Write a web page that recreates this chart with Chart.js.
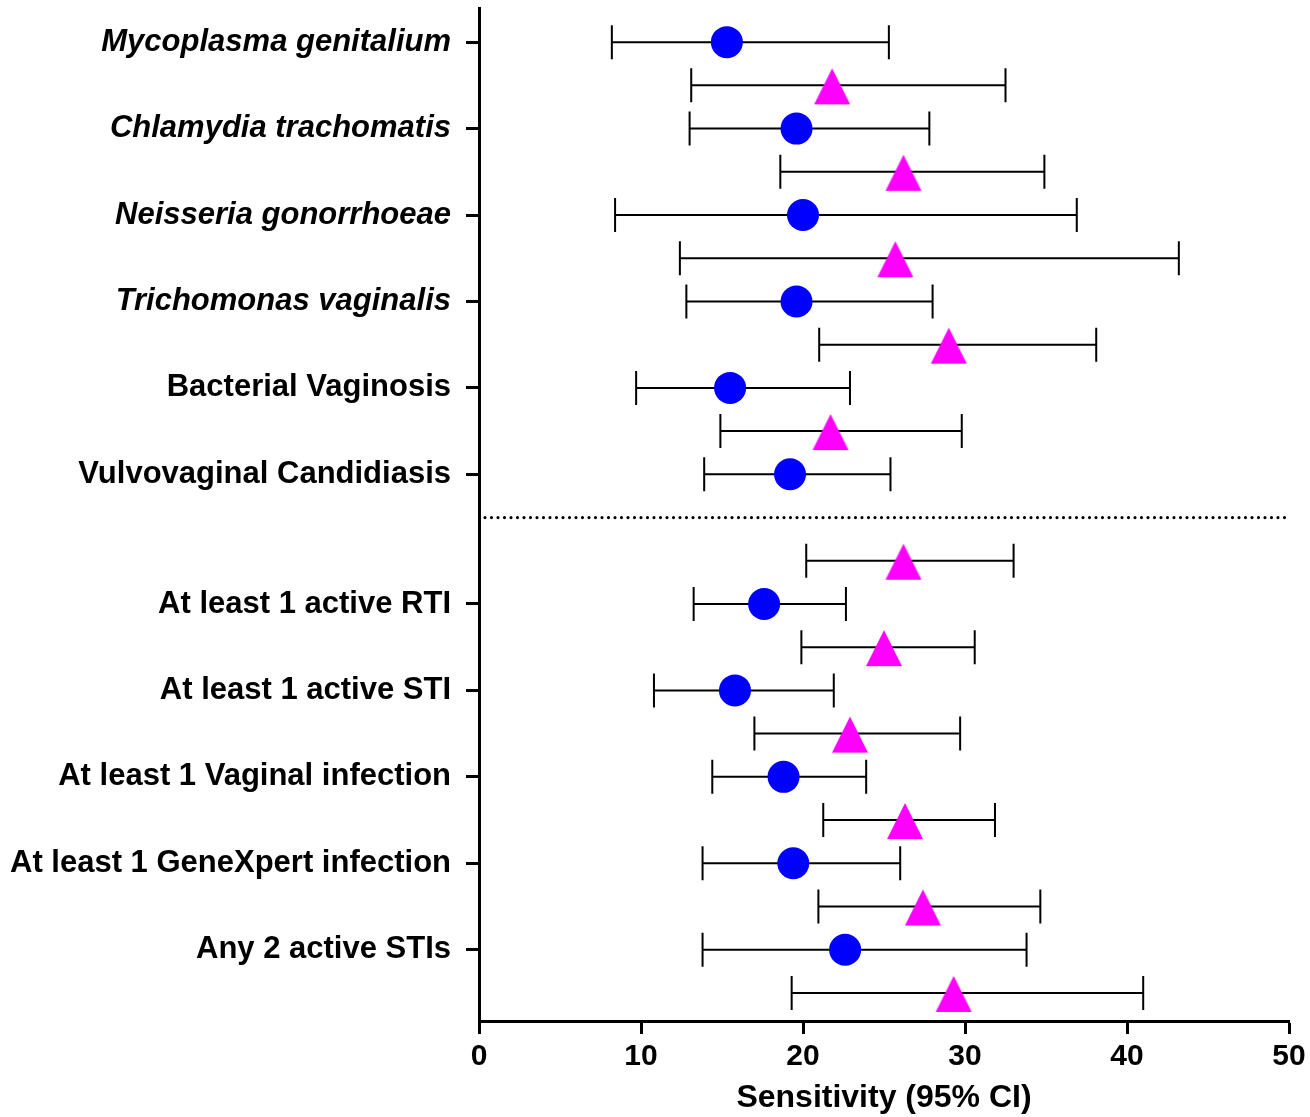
<!DOCTYPE html>
<html><head><meta charset="utf-8">
<script src="https://cdn.jsdelivr.net/npm/chart.js@4.4.1/dist/chart.umd.min.js"></script>
<style>html,body{margin:0;padding:0;background:#fff;} #wrap{width:1310px;height:1117px;}</style>
</head><body><div id="wrap"><canvas id="c" width="1310" height="1117"></canvas></div>
<script>
// ---- data ----
const categories = [
  'Mycoplasma genitalium', 'Chlamydia trachomatis', 'Neisseria gonorrhoeae', 'Trichomonas vaginalis',
  'Bacterial Vaginosis', 'Vulvovaginal Candidiasis',
  'At least 1 active RTI', 'At least 1 active STI', 'At least 1 Vaginal infection',
  'At least 1 GeneXpert infection', 'Any 2 active STIs'
];
const categoryItalic = [true, true, true, true, false, false, false, false, false, false, false];
// row slots (top to bottom) on the category axis
const blueSlots = [0, 2, 4, 6, 8, 10, 13, 15, 17, 19, 21];
const blueValues = [15.3, 19.6, 20.0, 19.6, 15.5, 19.2, 17.6, 15.8, 18.8, 19.4, 22.6];
const blueLow    = [8.2, 13.0, 8.4, 12.8, 9.7, 13.9, 13.25, 10.8, 14.4, 13.8, 13.8];
const blueHigh   = [25.3, 27.8, 36.9, 28.0, 22.9, 25.4, 22.65, 21.9, 23.9, 26.0, 33.8];

const triSlots  = [1, 3, 5, 7, 9, 12, 14, 16, 18, 20, 22];
const triValues = [21.8, 26.2, 25.7, 29.0, 21.7, 26.2, 25.0, 22.9, 26.3, 27.4, 29.3];
const triLow    = [13.1, 18.6, 12.4, 21.0, 14.9, 20.2, 19.9, 17.0, 21.25, 20.95, 19.3];
const triHigh   = [32.5, 34.9, 43.2, 38.1, 29.8, 33.0, 30.6, 29.7, 31.85, 34.65, 41.0];

const separatorSlot = 11;
const xTicks = [0, 10, 20, 30, 40, 50];

// ---- styling ----
const FONT = "'Liberation Sans', Arial, Helvetica, sans-serif";
const BLUE = '#0000FF';
const MAGENTA = '#FF00FF';

// triangle marker sprite (base below centre, like the reference)
const tri = document.createElement('canvas');
tri.width = 40; tri.height = 40;
(function(){
  const g = tri.getContext('2d');
  g.fillStyle = MAGENTA;
  g.beginPath(); g.moveTo(20, 3); g.lineTo(38, 39); g.lineTo(2, 39); g.closePath(); g.fill();
})();

const errorBars = {
  id: 'errorBars',
  beforeDatasetsDraw(chart) {
    const ctx = chart.ctx, xs = chart.scales.x, ys = chart.scales.y;
    chart.data.datasets.forEach(ds => {
      if (!ds.errLow) return;
      ctx.save();
      ctx.strokeStyle = '#000';
      ctx.lineWidth = 2;
      ds.data.forEach((p, i) => {
        const y = ys.getPixelForValue(p.y);
        const x1 = xs.getPixelForValue(ds.errLow[i]);
        const x2 = xs.getPixelForValue(ds.errHigh[i]);
        ctx.beginPath();
        ctx.moveTo(x1, y); ctx.lineTo(x2, y);
        ctx.moveTo(x1, y - 17); ctx.lineTo(x1, y + 17);
        ctx.moveTo(x2, y - 17); ctx.lineTo(x2, y + 17);
        ctx.stroke();
      });
      ctx.restore();
    });
  }
};

new Chart(document.getElementById('c'), {
  type: 'scatter',
  data: {
    datasets: [
      {
        type: 'line',
        data: [{x: 0.37, y: separatorSlot}, {x: 49.75, y: separatorSlot}],
        borderColor: '#000', borderWidth: 3.2, borderDash: [0, 6.5], borderCapStyle: 'round',
        pointRadius: 0, fill: false
      },
      {
        data: blueSlots.map((s, i) => ({x: blueValues[i], y: s})),
        errLow: blueLow, errHigh: blueHigh,
        pointStyle: 'circle', pointRadius: 16, pointBackgroundColor: BLUE, pointBorderWidth: 0, borderColor: BLUE
      },
      {
        data: triSlots.map((s, i) => ({x: triValues[i], y: s})),
        errLow: triLow, errHigh: triHigh,
        pointStyle: tri, pointRadius: 20, pointBackgroundColor: MAGENTA, pointBorderWidth: 0
      }
    ]
  },
  options: {
    responsive: false,
    animation: false,
    events: [],
    layout: {autoPadding: false, padding: {top: 8, right: 21, left: 0, bottom: 0}},
    plugins: {legend: {display: false}, tooltip: {enabled: false}},
    scales: {
      x: {
        type: 'linear', min: 0, max: 50,
        afterBuildTicks: s => { s.ticks = xTicks.map(v => ({value: v})); },
        afterFit: s => { s.height = 96; s.paddingLeft = 0; s.paddingRight = 0; },
        ticks: {color: '#000', padding: 5, maxRotation: 0, font: {family: FONT, size: 30, weight: 'bold'}},
        grid: {drawOnChartArea: false, drawTicks: true, tickLength: 13, tickWidth: 3, tickColor: '#000'},
        border: {display: true, color: '#000', width: 3},
        title: {display: true, text: 'Sensitivity (95% CI)', color: '#000', padding: {top: 0, bottom: 0},
                font: {family: FONT, size: 32, weight: 'bold'}}
      },
      y: {
        type: 'linear', reverse: true, min: -0.79, max: 22.65,
        afterBuildTicks: s => { s.ticks = blueSlots.map(v => ({value: v})); },
        afterFit: s => { s.width = 479; s.paddingTop = 0; s.paddingBottom = 0; },
        ticks: {
          autoSkip: false, padding: 15, color: '#000',
          font: ctx => ({family: FONT, size: 31, lineHeight: 0.4, weight: 'bold', style: categoryItalic[ctx.index] ? 'italic' : 'normal'}),
          callback: (v, i) => categories[i]
        },
        grid: {drawOnChartArea: false, drawTicks: true, tickLength: 13, tickWidth: 3, tickColor: '#000'},
        border: {display: true, color: '#000', width: 3}
      }
    }
  },
  plugins: [errorBars]
});
</script>
</body></html>
